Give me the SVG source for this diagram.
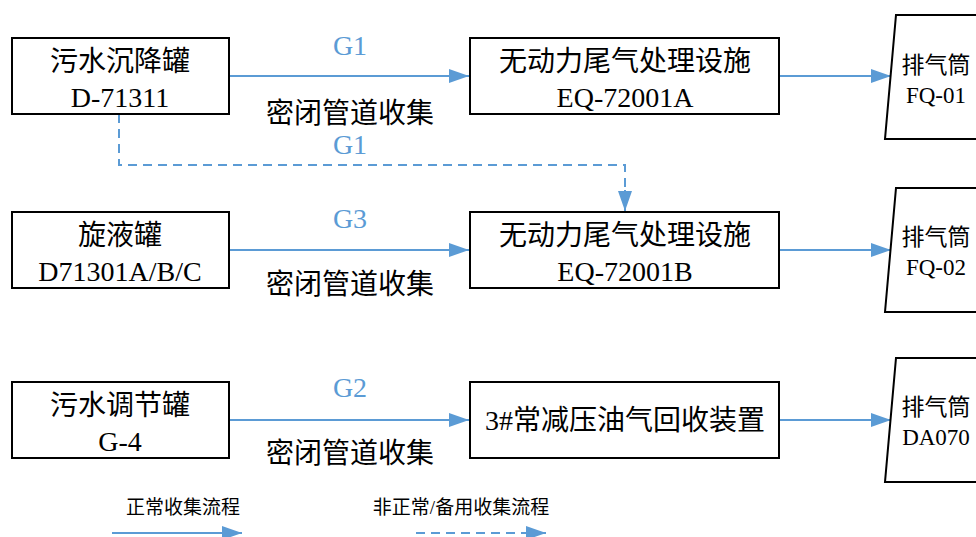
<svg xmlns="http://www.w3.org/2000/svg" width="976" height="537" viewBox="0 0 976 537">
<defs>
<style>
.box{fill:#fff;stroke:#000;stroke-width:2}
.t{font-family:"Liberation Serif","Noto Sans CJK SC",serif;font-size:28px;fill:#000;text-anchor:middle}
.ts{font-family:"Liberation Serif","Noto Sans CJK SC",serif;font-size:23px;fill:#000;text-anchor:middle}
.g{font-family:"Liberation Serif","Noto Sans CJK SC",serif;font-size:28px;fill:#5b9bd5;text-anchor:middle}
.lg{font-family:"Liberation Serif","Noto Sans CJK SC",serif;font-size:19px;fill:#000;text-anchor:middle}
.c{stroke:#5b9bd5;stroke-width:2;fill:none}
.d{stroke-dasharray:9,6}
</style>
<marker id="ahb" markerWidth="20" markerHeight="14" viewBox="0 0 20 14" refX="20" refY="7" orient="auto" markerUnits="userSpaceOnUse">
<path d="M0,0 L20,7 L0,14 z" fill="#5b9bd5"/>
</marker>
</defs>
<g id="connectors">
<line class="c" x1="229" y1="76" x2="469" y2="76" marker-end="url(#ahb)"/>
<line class="c" x1="229" y1="250" x2="469" y2="250" marker-end="url(#ahb)"/>
<line class="c" x1="229" y1="420" x2="469" y2="420" marker-end="url(#ahb)"/>
<line class="c" x1="779" y1="76" x2="891" y2="76" marker-end="url(#ahb)"/>
<line class="c" x1="779" y1="250" x2="891" y2="250" marker-end="url(#ahb)"/>
<line class="c" x1="779" y1="420" x2="891" y2="420" marker-end="url(#ahb)"/>
<polyline class="c d" points="119,114 119,165 625,165 625,196"/>
<line class="c" x1="625" y1="190" x2="625" y2="211" marker-end="url(#ahb)"/>
<text class="g" x="350" y="55">G1</text>
<text class="g" x="350" y="154">G1</text>
<text class="g" x="350" y="228">G3</text>
<text class="g" x="350" y="397">G2</text>
<text class="t" x="350" y="123">密闭管道收集</text>
<text class="t" x="350" y="294">密闭管道收集</text>
<text class="t" x="350" y="463">密闭管道收集</text>
</g>
<g id="n1"><rect class="box" x="12" y="38" width="217" height="76"/><text class="t" x="120" y="71">污水沉降罐</text><text class="t" x="120" y="107">D-71311</text></g>
<g id="n2"><rect class="box" x="12" y="212" width="217" height="76"/><text class="t" x="120" y="245">旋液罐</text><text class="t" x="120" y="281">D71301A/B/C</text></g>
<g id="n3"><rect class="box" x="12" y="382" width="217" height="76"/><text class="t" x="120" y="415">污水调节罐</text><text class="t" x="120" y="451">G-4</text></g>
<g id="n4"><rect class="box" x="470" y="38" width="309" height="76"/><text class="t" x="625" y="71">无动力尾气处理设施</text><text class="t" x="625" y="107">EQ-72001A</text></g>
<g id="n5"><rect class="box" x="470" y="212" width="309" height="76"/><text class="t" x="625" y="245">无动力尾气处理设施</text><text class="t" x="625" y="281">EQ-72001B</text></g>
<g id="n6"><rect class="box" x="470" y="382" width="309" height="76"/><text class="t" x="625" y="430">3#常减压油气回收装置</text></g>
<g id="s1"><path class="box" d="M985,15 L896,15 L885,139 L985,139"/><text class="ts" x="936" y="73">排气筒</text><text class="ts" x="936" y="103">FQ-01</text></g>
<g id="s2"><path class="box" d="M985,188 L896,188 L885,312 L985,312"/><text class="ts" x="936" y="245">排气筒</text><text class="ts" x="936" y="275">FQ-02</text></g>
<g id="s3"><path class="box" d="M985,358 L896,358 L885,482 L985,482"/><text class="ts" x="936" y="415">排气筒</text><text class="ts" x="936" y="445">DA070</text></g>
<g id="legend">
<text class="lg" x="183" y="514">正常收集流程</text>
<text class="lg" x="461" y="514">非正常/备用收集流程</text>
<line class="c" x1="112" y1="533" x2="242" y2="533" marker-end="url(#ahb)"/>
<line class="c d" x1="416" y1="533" x2="530" y2="533"/>
<line class="c" x1="526" y1="533" x2="546" y2="533" marker-end="url(#ahb)"/>
</g>
</svg>
